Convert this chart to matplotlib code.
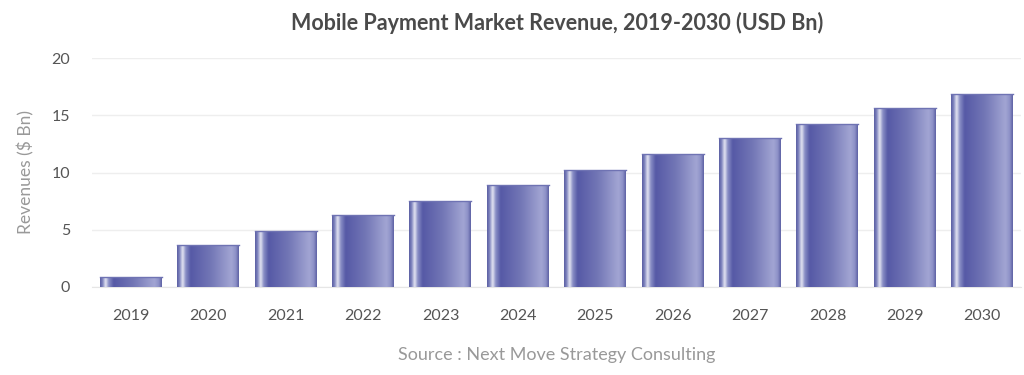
import numpy as np
import matplotlib.pyplot as plt
from matplotlib.colors import LinearSegmentedColormap
from matplotlib.patches import Rectangle

years = ['2019', '2020', '2021', '2022', '2023', '2024',
         '2025', '2026', '2027', '2028', '2029', '2030']
revenue = [0.87, 3.67, 4.9, 6.3, 7.5, 8.9, 10.2, 11.6, 13.0, 14.2, 15.6, 16.9]

plt.rcParams['font.family'] = ['Lato', 'DejaVu Sans']

# horizontal shading used inside every bar
shade = LinearSegmentedColormap.from_list('shade', [
    (0.00, '#5a5ea2'), (0.04, '#7d82bd'), (0.09, '#e6e7f3'),
    (0.14, '#8a8fc6'), (0.22, '#5659a6'), (0.55, '#7377b6'),
    (0.88, '#a2a5d3'), (0.95, '#8e92c8'), (1.00, '#5d61a3')])

fig = plt.figure(figsize=(10.24, 3.75), dpi=100)
ax = fig.add_axes([0.09, 0.2347, 0.907, 0.6106])

x = np.arange(len(years))
w = 0.8
bars = ax.bar(x, revenue, width=w, color='none', edgecolor='none', zorder=2)
grad = np.linspace(0, 1, 256).reshape(1, -1)
for b in bars:
    x0, y0 = b.get_x(), b.get_y()
    bw, bh = b.get_width(), b.get_height()
    im = ax.imshow(grad, cmap=shade, aspect='auto', extent=[x0, x0 + bw, y0, y0 + bh],
                   zorder=3, interpolation='bicubic')
    clip = Rectangle((x0, y0), bw, bh, transform=ax.transData)
    im.set_clip_path(clip)
    ax.plot([x0, x0 + bw], [y0 + bh, y0 + bh], color='#6f73b3', lw=1, zorder=4)

ax.set_xlim(-0.5, len(years) - 0.5)
ax.set_ylim(0, 20)
ax.set_yticks([0, 5, 10, 15, 20])
ax.set_xticks(x)
ax.set_xticklabels(years)
ax.tick_params(axis='both', length=0, labelsize=11.5, colors='#555555')
ax.tick_params(axis='x', pad=16)
ax.tick_params(axis='y', pad=16)
ax.grid(axis='y', color='#eeeeee', lw=1, zorder=0)
ax.set_axisbelow(True)
for s in ['top', 'right', 'left']:
    ax.spines[s].set_visible(False)
ax.spines['bottom'].set_color('#e6e6e6')

ax.set_ylabel('Revenues ($ Bn)', fontsize=12.5, color='#999999', labelpad=12)
fig.text(0.544, 0.94, 'Mobile Payment Market Revenue, 2019-2030 (USD Bn)',
         ha='center', va='center', fontsize=15.5, fontweight='bold', color='#4a4a4a')
fig.text(0.544, 0.053, 'Source : Next Move Strategy Consulting',
         ha='center', va='center', fontsize=13, color='#999999')

fig.savefig('out.png', dpi=100)
